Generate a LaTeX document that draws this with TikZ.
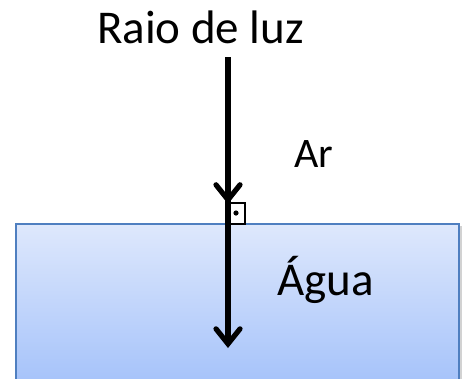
\documentclass[tikz,border=0pt]{standalone}
\usepackage{fontspec}
\setmainfont{Carlito}
\usetikzlibrary{arrows.meta,decorations.markings}
\definecolor{watertop}{RGB}{222,232,252}
\definecolor{waterbot}{RGB}{166,195,250}
\definecolor{waterborder}{RGB}{79,127,192}
\tikzset{
  lbl/.style={anchor=base, inner sep=0pt, font=\fontsize{47}{50}\selectfont},
  ray/.style={line width=5.2pt, -{Straight Barb[length=15pt,width=24pt,line cap=round]},
    postaction={decorate}, decoration={markings, mark=at position 0.505 with {\arrow{Straight Barb[length=15pt,width=24pt,line cap=round]}}}},
  water/.style={draw=waterborder, line width=1.5pt, top color=watertop, bottom color=waterbot},
}
\begin{document}
\begin{tikzpicture}[x=1pt,y=-1pt]
\useasboundingbox (0,0) rectangle (465,378);
\fill[gray!35] (18,226) rectangle (462,380);
\path[water] (16,224) rectangle (459,382);
\node[lbl] (raio) at (200.5,43) {Raio de luz};
\node[lbl, font=\fontsize{42}{45}\selectfont] (ar) at (313.5,167) {Ar};
\node[lbl] (agua) at (325.5,295) {Água};
\coordinate (top) at (228,57);
\coordinate (bot) at (228,348);
\draw[line width=1.2pt] (228,203) rectangle (245,224);
\fill (236,213) circle (2.6);
\draw[ray] (top) -- (bot);
\end{tikzpicture}
\end{document}
